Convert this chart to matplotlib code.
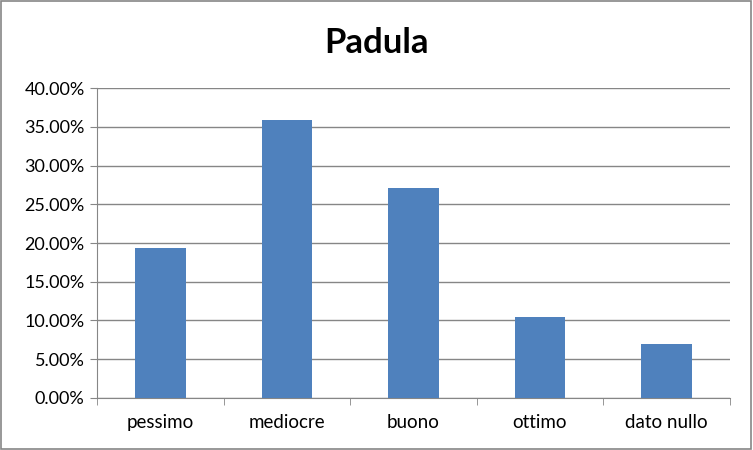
import matplotlib.pyplot as plt
from matplotlib.ticker import FuncFormatter, FixedLocator
from matplotlib.patches import Rectangle

plt.rcParams['font.family'] = ['Lato', 'DejaVu Sans']

categories = ['pessimo', 'mediocre', 'buono', 'ottimo', 'dato nullo']
values = [19.35, 35.9, 27.05, 10.4, 6.9]

grey = '#868686'

fig = plt.figure(figsize=(7.53, 4.5), dpi=100)
ax = fig.add_axes([0.129, 0.116, 0.84, 0.688])

x = range(len(categories))
ax.bar(x, values, width=0.4, color='#4F81BD', zorder=3)

ax.set_xlim(-0.5, len(categories) - 0.5)
ax.set_ylim(0, 40)
ax.set_yticks(range(0, 41, 5))
ax.yaxis.set_major_formatter(FuncFormatter(lambda v, p: '%.2f%%' % v))
ax.set_xticks(list(x))
ax.set_xticklabels(categories)
ax.xaxis.set_minor_locator(FixedLocator([i - 0.5 for i in range(len(categories) + 1)]))
ax.tick_params(axis='x', which='major', length=0, pad=12, labelsize=13.5)
ax.tick_params(axis='x', which='minor', length=5, color=grey)
ax.tick_params(axis='y', length=5, color=grey, labelsize=13, pad=4)

ax.grid(axis='y', color=grey, linewidth=1, zorder=0)
for s in ['top', 'right']:
    ax.spines[s].set_visible(False)
for s in ['left', 'bottom']:
    ax.spines[s].set_color(grey)

fig.text(0.5, 0.905, 'Padula', fontsize=25, fontweight='bold', ha='center', va='center')

fig.patches.append(Rectangle((0.001, 0.002), 0.997, 0.996, transform=fig.transFigure,
                             fill=False, edgecolor=grey, linewidth=1.2))

fig.savefig('out.png', dpi=100)
